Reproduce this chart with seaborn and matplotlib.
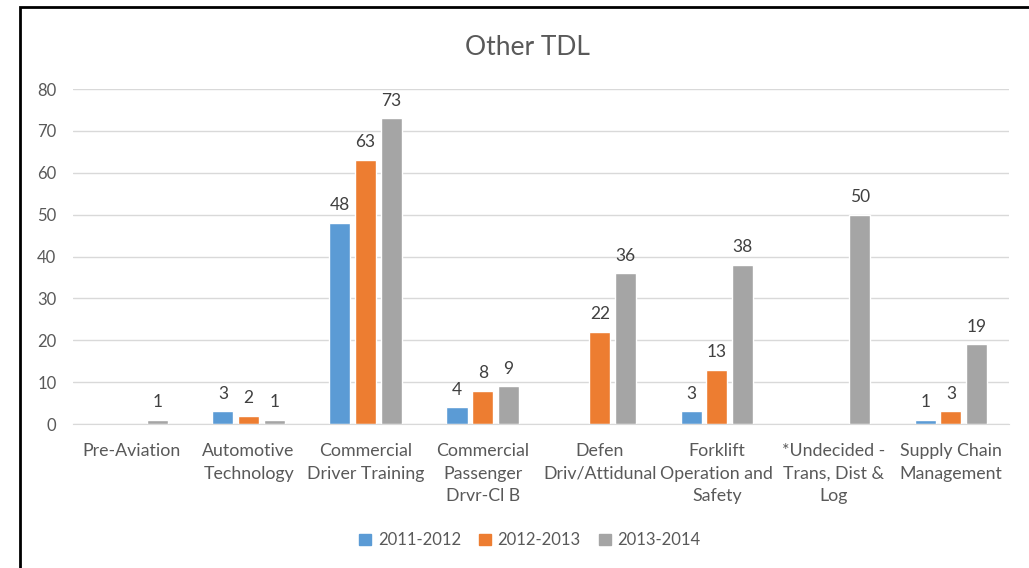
import pandas as pd
import numpy as np
import matplotlib.pyplot as plt
import seaborn as sns
from matplotlib.patches import Rectangle

categories = ["Pre-Aviation", "Automotive\nTechnology", "Commercial\nDriver Training",
              "Commercial\nPassenger\nDrvr-Cl B", "Defen\nDriv/Attidunal",
              "Forklift\nOperation and\nSafety", "*Undecided -\nTrans, Dist &\nLog",
              "Supply Chain\nManagement"]
years = ["2011-2012", "2012-2013", "2013-2014"]
v_2011 = [np.nan, 3, 48, 4, np.nan, 3, np.nan, 1]
v_2012 = [np.nan, 2, 63, 8, 22, 13, np.nan, 3]
v_2013 = [1, 1, 73, 9, 36, 38, 50, 19]
colors = ["#5B9BD5", "#ED7D31", "#A5A5A5"]

rows = []
for yr, vals in zip(years, [v_2011, v_2012, v_2013]):
    for c, v in zip(categories, vals):
        rows.append({"Program": c, "Year": yr, "Count": v})
df = pd.DataFrame(rows)

sns.set_style("white")
plt.rcParams['font.family'] = ['Lato', 'DejaVu Sans']
txt = "#595959"

fig = plt.figure(figsize=(10.29, 5.68), dpi=100)
ax = fig.add_axes([0.071, 0.2535, 0.91, 0.5898])

sns.barplot(data=df.dropna(), x="Program", y="Count", hue="Year", order=categories,
            hue_order=years, palette=colors, width=0.66, gap=0.18, ax=ax,
            saturation=1, legend=False)

for cont in ax.containers:
    ax.bar_label(cont, fmt="%g", padding=7, fontsize=12.5, color="#404040")

ax.set_ylim(0, 80)
ax.set_yticks(range(0, 81, 10))
ax.set_xlim(-0.5, len(categories) - 0.5)
ax.grid(axis="y", color="#D9D9D9", linewidth=1)
ax.set_axisbelow(True)
for s in ["left", "right", "top"]:
    ax.spines[s].set_visible(False)
ax.spines["bottom"].set_color("#D9D9D9")
ax.tick_params(axis="both", length=0, colors=txt, labelsize=12)
ax.tick_params(axis="x", pad=14, labelsize=12.8)
for lab in ax.get_xticklabels():
    lab.set_multialignment("center")
    lab.set_linespacing(1.5)
ax.tick_params(axis="y", pad=12)
ax.set_xlabel("")
ax.set_ylabel("")

fig.text(0.513, 0.917, "Other TDL", ha="center", va="center", fontsize=19, color=txt)

handles = [Rectangle((0, 0), 1, 1, color=c) for c in colors]
fig.legend(handles, years, loc="center", bbox_to_anchor=(0.515, 0.049), ncol=3,
           frameon=False, fontsize=12, labelcolor=txt, handlelength=0.7,
           handleheight=0.7, handletextpad=0.4, columnspacing=1.1)

fig.patches.append(Rectangle((20 / 1029, -0.05), 1.1, 1 - 7 / 568 + 0.05,
                             transform=fig.transFigure, fill=False,
                             edgecolor="black", linewidth=2))

fig.savefig("out.png", dpi=100)
